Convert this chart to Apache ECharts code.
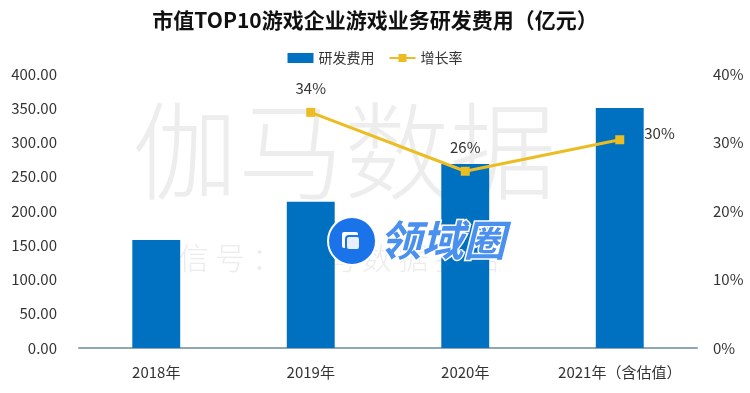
<!DOCTYPE html>
<html><head><meta charset="utf-8">
<script src="https://cdn.jsdelivr.net/npm/echarts@6/dist/echarts.min.js"></script>
<style>html,body{margin:0;padding:0;background:#fff}#c{width:750px;height:393px}</style>
</head><body><div id="c"></div>
<script>
const categories = ['2018年', '2019年', '2020年', '2021年（含估值）'];
const rdCost = [157.5, 213.5, 268.5, 350.5];
const growth = [null, 0.344, 0.258, 0.304];
const leftTicks = [0, 50, 100, 150, 200, 250, 300, 350, 400];
const rightTicks = [0, 0.1, 0.2, 0.3, 0.4];

const FONT = '"Noto Sans CJK SC", "Noto Sans", sans-serif';
const chart = echarts.init(document.getElementById('c'));
const labelPos = [null, 'top', 'top', 'right'];
chart.setOption({
  animation: false,
  textStyle: { fontFamily: FONT },
  title: {
    text: '市值TOP10游戏企业游戏业务研发费用（亿元）',
    left: 'center', top: 5,
    textStyle: { fontSize: 21, fontWeight: 'bold', color: '#111', fontFamily: FONT }
  },
  legend: {
    top: 46, left: 'center', itemGap: 14,
    itemWidth: 26, itemHeight: 10,
    textStyle: { fontSize: 14, color: '#333', fontFamily: FONT },
    data: [{ name: '研发费用', icon: 'rect' }, { name: '增长率' }]
  },
  grid: { left: 79, right: 53, top: 74, bottom: 45, containLabel: false },
  xAxis: {
    type: 'category', data: categories,
    axisLine: { lineStyle: { color: '#8fa6b4', width: 2 } },
    axisTick: { show: false },
    axisLabel: { interval: 0, fontSize: 15, color: '#333', margin: 17, fontFamily: FONT }
  },
  yAxis: [{
    type: 'value', min: leftTicks[0], max: leftTicks[leftTicks.length - 1], interval: 50,
    splitLine: { show: false }, axisLine: { show: false }, axisTick: { show: false },
    axisLabel: { fontSize: 15, color: '#333', margin: 22, formatter: v => v.toFixed(2), fontFamily: FONT }
  }, {
    type: 'value', min: rightTicks[0], max: rightTicks[rightTicks.length - 1], interval: 0.1,
    splitLine: { show: false }, axisLine: { show: false }, axisTick: { show: false },
    axisLabel: { fontSize: 15, color: '#333', margin: 16, formatter: v => Math.round(v * 100) + '%', fontFamily: FONT }
  }],
  graphic: [
    { type: 'text', z: 0, left: 132, top: 98,
      style: { text: '伽马数据', fontSize: 106, fontWeight: 300, fill: '#ededed', fontFamily: FONT, letterSpacing: 4 } },
    { type: 'text', z: 0, left: 142, top: 243,
      style: { text: '微 信 号 ： 伽 马 数 据 报 告', fontSize: 30, fontWeight: 300, fill: '#ececec', fontFamily: FONT } },
    { type: 'circle', z: 100, shape: { cx: 352, cy: 241, r: 24 },
      style: { fill: '#1a73e8', stroke: '#fff', lineWidth: 2 } },
    { type: 'rect', z: 101, shape: { x: 341, y: 231, width: 18, height: 18, r: 3 },
      style: { fill: '#fff', stroke: '#1a73e8', lineWidth: 2 } },
    { type: 'rect', z: 102, shape: { x: 346, y: 236, width: 14, height: 14, r: 3 },
      style: { fill: '#e8f0fe', stroke: '#1a73e8', lineWidth: 2 } },
    { type: 'text', z: 100, left: 378, top: 218,
      style: { text: '领域圈', fontSize: 42, fontWeight: 'bold', fontStyle: 'italic', fill: '#4a90ee', stroke: '#fff', lineWidth: 3, fontFamily: FONT } }
  ],
  series: [{
    name: '研发费用', type: 'bar', data: rdCost, barWidth: '31%', z: 5,
    itemStyle: { color: '#0070c0' }
  }, {
    name: '增长率', type: 'line', yAxisIndex: 1, z: 6,
    data: growth.map((v, i) => v == null ? null : {
      value: v, label: labelPos[i] === 'right'
        ? { position: 'right', distance: 20, offset: [0, -6] }
        : { position: 'top', distance: 12 }
    }),
    symbol: 'rect', symbolSize: 9,
    lineStyle: { color: '#ebbd22', width: 3 },
    itemStyle: { color: '#ebbd22' },
    label: { show: true, fontSize: 15, color: '#333', formatter: p => Math.round(p.value * 100) + '%', fontFamily: FONT }
  }]
});
</script></body></html>
